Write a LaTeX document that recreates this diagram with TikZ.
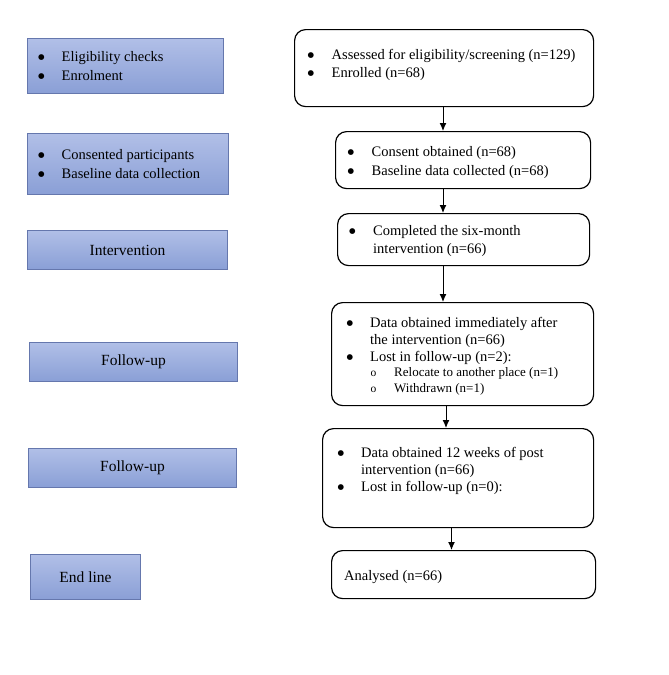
\documentclass[tikz,border=0pt]{standalone}
\usepackage{fontspec}
\setmainfont{Liberation Serif}
\newfontfamily\symfont{DejaVu Sans}
\usetikzlibrary{arrows.meta}
\definecolor{stagetop}{HTML}{B1BFE7}
\definecolor{stagebot}{HTML}{8A9FD6}
\definecolor{stageborder}{HTML}{6577AD}
\newcommand{\bul}{\raisebox{1.6pt}{\symfont\fontsize{7.5}{8}\selectfont ●}}
\newcommand{\subbul}{\fontsize{11.5}{12}\selectfont o}
\begin{document}
\begin{tikzpicture}[x=1pt,y=-1pt,
  stage/.style={draw=stageborder, top color=stagetop, bottom color=stagebot, anchor=north west, inner sep=0pt, line width=0.9pt},
  flow/.style={draw=black, rounded corners=11pt, anchor=north west, inner sep=0pt, line width=1.2pt},
  txt/.style={anchor=base west, inner sep=0pt, font=\fontsize{14.5}{17}\selectfont},
  subtxt/.style={anchor=base west, inner sep=0pt, font=\fontsize{13}{15}\selectfont},
  lbl/.style={anchor=center, inner sep=0pt, font=\fontsize{15.5}{18}\selectfont},
  arr/.style={-{Latex[length=8pt,width=7pt]}, line width=1pt}]
\useasboundingbox (0,0) rectangle (669,675);
\fill[white] (0,0) rectangle (669,675);

% left stage boxes
\node[stage, minimum width=196pt, minimum height=55pt] (s1) at (27,38) {};
\node[stage, minimum width=201pt, minimum height=61pt] (s2) at (27,133) {};
\node[stage, minimum width=200pt, minimum height=39pt] (s3) at (27,230) {};
\node[stage, minimum width=208pt, minimum height=39pt] (s4) at (29,342) {};
\node[stage, minimum width=208pt, minimum height=39pt] (s5) at (28,448) {};
\node[stage, minimum width=110pt, minimum height=45pt] (s6) at (30,554) {};

\node[txt] (s1b1) at (38,61.5) {\bul};
\node[txt] (s1t1) at (61.5,61.5) {Eligibility checks};
\node[txt] (s1b2) at (38,80) {\bul};
\node[txt] (s1t2) at (61.5,80) {Enrolment};
\node[txt] (s2b1) at (38,159.5) {\bul};
\node[txt] (s2t1) at (61.5,159.5) {Consented participants};
\node[txt] (s2b2) at (38,178.5) {\bul};
\node[txt] (s2t2) at (61.5,178.5) {Baseline data collection};
\node[lbl] (s3t) at (127.5,250.5) {Intervention};
\node[lbl] (s4t) at (133.5,362) {Follow-up};
\node[lbl] (s5t) at (132.5,467.5) {Follow-up};
\node[lbl] (s6t) at (85.5,577.5) {End line};

% right flow boxes
\node[flow, minimum width=299pt, minimum height=77pt] (f1) at (294,29) {};
\node[flow, minimum width=255pt, minimum height=57pt] (f2) at (335,131) {};
\node[flow, minimum width=252pt, minimum height=52pt] (f3) at (337,213) {};
\node[flow, minimum width=262pt, minimum height=103pt] (f4) at (331,302) {};
\node[flow, minimum width=271pt, minimum height=99pt] (f5) at (322,428) {};
\node[flow, minimum width=264pt, minimum height=48pt] (f6) at (331,550) {};

\node[txt] (f1b1) at (307.5,59) {\bul};
\node[txt] (f1t1) at (331.5,59) {Assessed for eligibility/screening (n=129)};
\node[txt] (f1b2) at (307.5,77.5) {\bul};
\node[txt] (f1t2) at (331.5,77.5) {Enrolled (n=68)};

\node[txt] (f2b1) at (347.5,156.5) {\bul};
\node[txt] (f2t1) at (371.5,156.5) {Consent obtained (n=68)};
\node[txt] (f2b2) at (347.5,175.5) {\bul};
\node[txt] (f2t2) at (371.5,175.5) {Baseline data collected (n=68)};

\node[txt] (f3b1) at (349,235.5) {\bul};
\node[txt] (f3t1) at (373,235.5) {Completed the six-month};
\node[txt] (f3t2) at (373,253) {intervention (n=66)};

\node[txt] (f4b1) at (346.5,327) {\bul};
\node[txt] (f4t1) at (370,327) {Data obtained immediately after};
\node[txt] (f4t2) at (370,344.5) {the intervention (n=66)};
\node[txt] (f4b2) at (346.5,361) {\bul};
\node[txt] (f4t3) at (370,361) {Lost in follow-up (n=2):};
\node[subtxt] (f4b3) at (370.5,376.5) {\subbul};
\node[subtxt] (f4t4) at (394,376.5) {Relocate to another place (n=1)};
\node[subtxt] (f4b4) at (370.5,392) {\subbul};
\node[subtxt] (f4t5) at (394,392) {Withdrawn (n=1)};

\node[txt] (f5b1) at (337.5,457.5) {\bul};
\node[txt] (f5t1) at (361,457.5) {Data obtained 12 weeks of post};
\node[txt] (f5t2) at (361,474.5) {intervention (n=66)};
\node[txt] (f5b2) at (337.5,491) {\bul};
\node[txt] (f5t3) at (361,491) {Lost in follow-up (n=0):};

\node[txt] (f6t) at (344,580) {Analysed (n=66)};

% connectors
\coordinate (a1) at (443,106);
\coordinate (a2) at (443,265);
\coordinate (a3) at (446,405);
\coordinate (a4) at (451.5,527);
\draw[arr] (a1) -- (a1 |- f2.north);
\draw[arr] (f2.south -| a1) -- (f3.north -| a1);
\draw[arr] (a2) -- (a2 |- f4.north);
\draw[arr] (a3) -- (a3 |- f5.north);
\draw[arr] (a4) -- (a4 |- f6.north);
\end{tikzpicture}
\end{document}
